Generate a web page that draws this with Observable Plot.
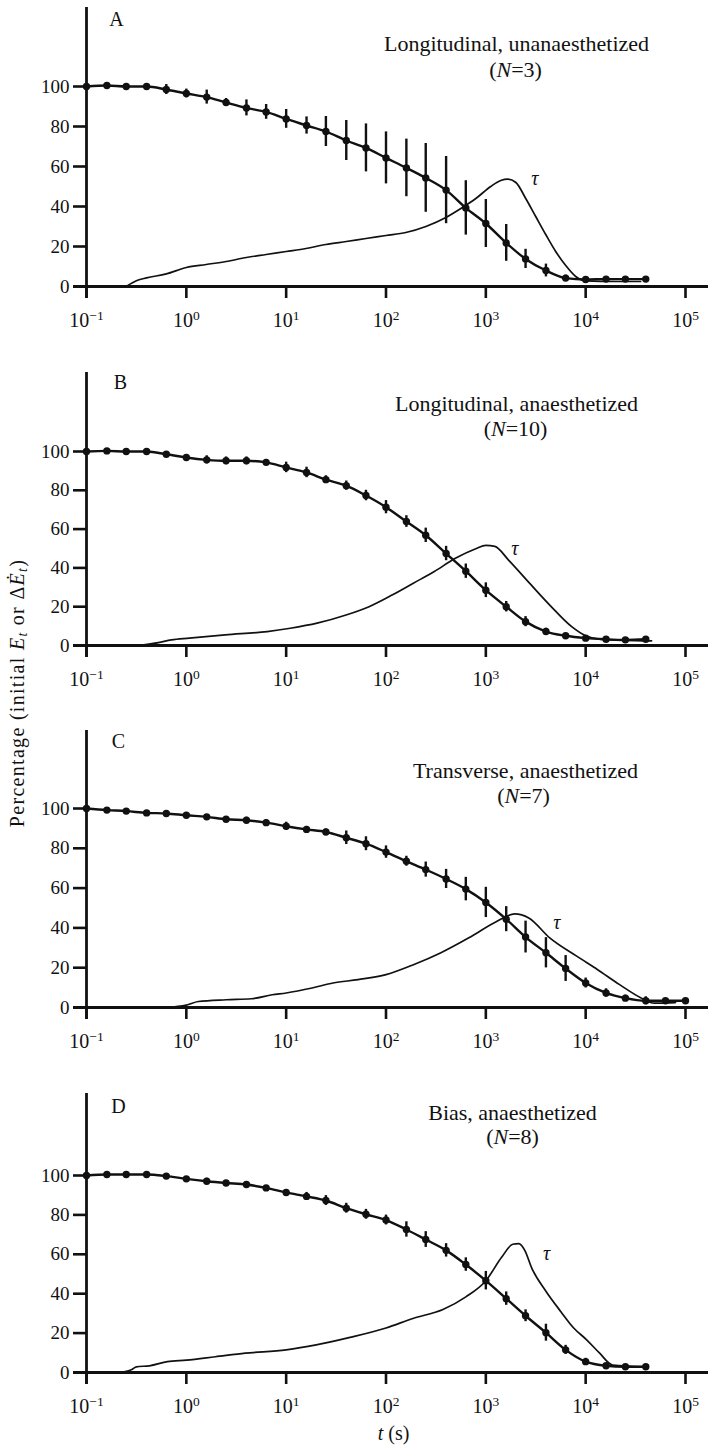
<!DOCTYPE html>
<html><head><meta charset="utf-8">
<script src="https://cdn.jsdelivr.net/npm/d3@7"></script>
<script src="https://cdn.jsdelivr.net/npm/@observablehq/plot@0.6"></script>
<style>
body{margin:0;background:#fff;}
#wrap{position:relative;width:708px;height:1447px;overflow:hidden;background:#fff;font-family:'Liberation Serif','Times New Roman',serif;color:#111;}
#wrap svg{position:absolute;left:0;overflow:visible;}
#ylab{position:absolute;width:420px;left:-193px;top:681px;height:24px;line-height:24px;text-align:center;font-size:20px;letter-spacing:1.3px;transform:rotate(-90deg);transform-origin:50% 50%;white-space:nowrap;}
#ylab sub{font-size:0.68em;vertical-align:-0.25em;line-height:0;}
</style></head><body><div id="wrap"><div id="ylab">Percentage (initial <i>E</i><sub><i>t</i></sub> or Δ<i>Ė</i><sub><i>t</i></sub>)</div></div>
<script>
// ---- tick values ----
const xTicks = [0.1, 1, 10, 100, 1000, 10000, 100000];
const yTicks = [0, 20, 40, 60, 80, 100];

// ---- sample times (s) ----
const times29 = [0.1, 0.16, 0.25, 0.4, 0.63, 1, 1.6, 2.5, 4, 6.3, 10, 16, 25, 40, 63, 100, 160, 250, 400, 630, 1000, 1600, 2500, 4000, 6300, 10000, 16000, 25000, 40000];
const times31 = [0.1, 0.16, 0.25, 0.4, 0.63, 1, 1.6, 2.5, 4, 6.3, 10, 16, 25, 40, 63, 100, 160, 250, 400, 630, 1000, 1600, 2500, 4000, 6300, 10000, 16000, 25000, 40000, 63000, 100000];

// ---- A: Longitudinal, unanaesthetized ----
const valsA = [100, 100.5, 100, 100, 98.5, 96.5, 94.7, 92, 89.3, 87.3, 83.8, 80.5, 77.5, 73, 69.3, 64.3, 59.3, 54.3, 48.2, 39.3, 31.5, 21.8, 13.8, 8, 4.2, 3.5, 3.7, 3.7, 3.7];
const errsA = [0, 0, 0, 0, 2.5, 2.2, 3.5, 2, 4, 3.7, 4.7, 4.3, 7.5, 10, 12, 13, 14.4, 17.2, 16.8, 13.6, 12, 9.2, 4.8, 3.2, 1.5, 0, 0, 0, 0];
const tauTA = [0.25, 0.32, 0.4, 0.63, 1, 1.58, 2.5, 4, 6.3, 10, 15.8, 25, 40, 63, 100, 158, 251, 398, 562, 794, 1120, 1410, 1660, 2000, 2510, 3160, 3980, 5010, 6310, 7940, 10000, 20000, 35500];
const tauVA = [0, 3, 4.3, 6.3, 9.5, 11, 12.5, 14.5, 16, 17.5, 19, 21, 22.5, 24, 25.5, 27, 30, 34.5, 39, 44, 50, 53, 53.7, 52, 44, 35, 26, 17.5, 10.5, 5, 2.8, 2.5, 2.5];
const tauLabA = [3100, 54];

// ---- B: Longitudinal, anaesthetized ----
const valsB = [100, 100.3, 100, 100, 98.6, 96.9, 95.7, 95.2, 95.2, 94.4, 91.8, 89.2, 85.5, 82.4, 77.3, 71.3, 63.9, 56.8, 47.4, 38.3, 28.5, 20, 12.3, 7.2, 5, 3.8, 3.2, 2.9, 3.2];
const errsB = [0, 0, 0, 0, 1, 1.5, 2.1, 2, 2, 1.5, 2.7, 2.7, 2, 2.4, 2.7, 3.4, 3, 3.7, 3.7, 3.7, 3.8, 2.7, 2.6, 1.7, 1, 0, 0, 0, 0];
const tauTB = [0.339, 0.525, 0.708, 1.07, 2.45, 6.46, 11, 20.4, 39.8, 67.6, 115, 186, 302, 490, 794, 1000, 1230, 1698, 2754, 4467, 7244, 10000, 14125, 45709];
const tauVB = [0, 1.5, 2.9, 3.8, 5.5, 7.2, 8.9, 11.5, 15.7, 20, 26, 32, 38, 44.8, 49.9, 51.6, 51.1, 43.9, 32, 20.3, 9.7, 5, 3.2, 2.4];
const tauLabB = [1950, 50];

// ---- C: Transverse, anaesthetized ----
const valsC = [100, 99.2, 98.7, 97.8, 97.5, 96.6, 95.8, 94.6, 94.1, 92.9, 91.1, 89.5, 88.2, 85.3, 82.3, 78.1, 73.5, 69.3, 64.6, 59.5, 52.8, 44.4, 35.4, 27.5, 19.6, 12.3, 7.3, 4.7, 3.4, 3.4, 3.4];
const errsC = [0, 0, 0, 0, 0, 0, 1, 1, 1.5, 1.5, 2, 1.5, 1.5, 3.4, 3.5, 3.1, 2.5, 3.8, 4.8, 5.9, 7.6, 6.3, 8, 7.6, 6.5, 2.5, 2.1, 1.5, 2, 0, 0];
const tauTC = [0.631, 1, 1.32, 2.51, 4.47, 7.24, 10, 18.2, 29.5, 52.5, 100, 191, 355, 676, 1230, 1950, 2692, 4365, 8128, 13183, 21878, 36308, 48978, 79433];
const tauVC = [0, 1.2, 3, 3.9, 4.4, 6.4, 7.3, 9.8, 12.3, 14, 16.5, 21.6, 27.5, 35, 42.7, 47, 45, 35, 25.8, 19, 11.5, 4.7, 2.2, 2.5];
const tauLabC = [5130, 42.7];

// ---- D: Bias, anaesthetized ----
const valsD = [100, 100.5, 100.5, 100.5, 99.7, 98.3, 97.1, 96.2, 95.4, 93.7, 91.4, 89.4, 87.3, 83.4, 80.3, 77.4, 72.6, 67.5, 62, 54.8, 46.6, 37.5, 28.8, 20.2, 11.5, 5.5, 3.4, 2.9, 2.9];
const errsD = [0, 0, 0, 0, 1, 1, 1.5, 1, 1, 1, 1.5, 2, 2.5, 2.5, 2.5, 2.5, 3.9, 4, 3.4, 3.4, 4.7, 3.4, 3, 4.3, 2.3, 1.7, 0, 0, 0];
const tauTD = [0.219, 0.288, 0.316, 0.427, 0.646, 1, 1.95, 3.89, 10, 20, 43.6, 100, 186, 372, 631, 1000, 1445, 1862, 2138, 2455, 2884, 3981, 5623, 7586, 10233, 13804, 18621, 39811];
const tauVD = [0, 1.7, 2.9, 3.4, 5.5, 6.3, 8, 9.8, 11.5, 14, 17.8, 22.6, 27.4, 32, 38.4, 46.6, 58.6, 65.1, 65.4, 62, 53, 41.4, 31, 22.6, 16.6, 9.8, 3.8, 2.9];
const tauLabD = [4070, 60.4];

// ---- panel texts ----
const letters = ["A", "B", "C", "D"];
const titles = ["Longitudinal, unanaesthetized", "Longitudinal, anaesthetized", "Transverse, anaesthetized", "Bias, anaesthetized"];
const nLabels = ["(N=3)", "(N=10)", "(N=7)", "(N=8)"];

// ---- layout (page pixels) ----
const layouts = [
  {axisTop: 7,    zero: 286,  ppu: 2.0,  letter: [116, 19],   title: [516, 43],   n: [515, 69],   mb: 60},
  {axisTop: 372,  zero: 645,  ppu: 1.94, letter: [120, 382],  title: [516, 403],  n: [515, 428],  mb: 60},
  {axisTop: 730,  zero: 1007, ppu: 1.99, letter: [118, 741],  title: [525, 770],  n: [523, 795],  mb: 60},
  {axisTop: 1093, zero: 1372, ppu: 1.97, letter: [118, 1106], title: [512, 1112], n: [512, 1136], mb: 75}
];

const series = [
  {times: times29, vals: valsA, errs: errsA, tauT: tauTA, tauV: tauVA, tauLab: tauLabA},
  {times: times29, vals: valsB, errs: errsB, tauT: tauTB, tauV: tauVB, tauLab: tauLabB},
  {times: times31, vals: valsC, errs: errsC, tauT: tauTC, tauV: tauVC, tauLab: tauLabC},
  {times: times29, vals: valsD, errs: errsD, tauT: tauTD, tauV: tauVD, tauLab: tauLabD}
];

const ML = 86, MR = 23, W = 708;
const ink = "#111";
const wrap = document.getElementById("wrap");

series.forEach((s, k) => {
  const L = layouts[k];
  const H = L.zero - L.axisTop;
  const mt = Math.min(10, L.axisTop);
  const yTop = H / L.ppu;
  const pts = s.times.map((t, i) => ({t, v: s.vals[i], e: s.errs[i]}));
  const tau = s.tauT.map((t, i) => ({t, v: s.tauV[i]}));
  const marks = [
    Plot.axisX({ticks: xTicks, tickSize: 12, tickPadding: 14, strokeWidth: 2.6, fontSize: 20, label: null,
      tickFormat: d => "10^" + Math.round(Math.log10(d))}),
    Plot.axisY({ticks: yTicks, tickSize: 13, tickPadding: 4, strokeWidth: 2.6, fontSize: 19, label: null}),
    Plot.ruleY([0], {insetLeft: -13, insetRight: -MR, stroke: ink, strokeWidth: 2.8}),
    Plot.ruleX([0.1], {insetBottom: -12, stroke: ink, strokeWidth: 2.8}),
    Plot.line(tau, {x: "t", y: "v", curve: "monotone-x", stroke: ink, strokeWidth: 1.7}),
    Plot.line(pts, {x: "t", y: "v", curve: "monotone-x", stroke: ink, strokeWidth: 2.4}),
    Plot.ruleX(pts.filter(d => d.e > 0), {x: "t", y1: d => d.v - d.e, y2: d => d.v + d.e, stroke: ink, strokeWidth: 2.4}),
    Plot.dot(pts, {x: "t", y: "v", r: 3.7, fill: ink, stroke: "none"}),
    Plot.text([s.tauLab], {x: d => d[0], y: d => d[1], text: () => "τ", fontStyle: "italic", fontSize: 20, fill: ink}),
    Plot.text([letters[k]], {frameAnchor: "top-left", dx: L.letter[0] - ML, dy: L.letter[1] - L.axisTop,
      textAnchor: "middle", lineAnchor: "middle", fontSize: 20, fill: ink}),
    Plot.text([titles[k]], {frameAnchor: "top-left", dx: L.title[0] - ML, dy: L.title[1] - L.axisTop,
      textAnchor: "middle", lineAnchor: "middle", fontSize: 22, fill: ink}),
    Plot.text([nLabels[k]], {frameAnchor: "top-left", dx: L.n[0] - ML, dy: L.n[1] - L.axisTop,
      textAnchor: "middle", lineAnchor: "middle", fontSize: 22, fill: ink})
  ];
  if (k === 3) {
    marks.push(Plot.text(["t (s)"], {frameAnchor: "bottom", dx: 393 - (ML + (W - MR - ML) / 2), dy: 1433 - L.zero,
      textAnchor: "middle", lineAnchor: "middle", fontSize: 20, fill: ink}));
  }
  const svg = Plot.plot({
    width: W, height: H + mt + L.mb,
    marginLeft: ML, marginRight: MR, marginTop: mt, marginBottom: L.mb,
    style: {fontFamily: "'Liberation Serif','Times New Roman',serif", color: ink, background: "transparent", overflow: "visible"},
    x: {type: "log", domain: [0.1, 100000]},
    y: {domain: [0, yTop]},
    marks
  });
  svg.style.top = (L.axisTop - mt) + "px";
  // rich text: superscript exponents, italic N and t
  svg.querySelectorAll("text").forEach(el => {
    const s0 = el.textContent;
    let m = s0.match(/^10\^(-?\d+)$/);
    if (m) {
      const e = m[1].replace("-", "\u2212");
      el.innerHTML = `10<tspan dy="-0.48em" font-size="13.5">${e}</tspan>`;
      return;
    }
    m = s0.match(/^\(N=(\d+)\)$/);
    if (m) { el.innerHTML = `(<tspan font-style="italic">N</tspan>=${m[1]})`; return; }
    if (s0 === "t (s)") el.innerHTML = `<tspan font-style="italic">t</tspan> (s)`;
  });
  wrap.appendChild(svg);
});
</script></body></html>
